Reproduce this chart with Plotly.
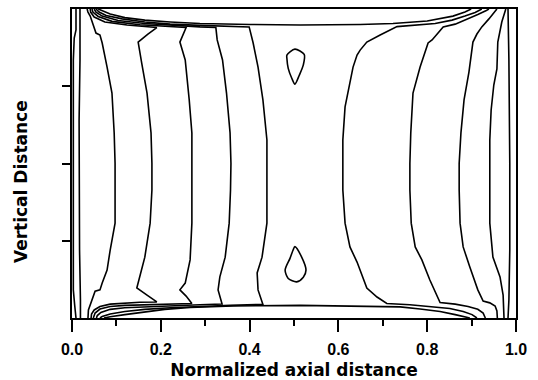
import plotly.graph_objects as go

# ---- Isolines: x = normalized axial distance, y = normalized height ----
# Band line nearest the top / bottom boundary layer
L1_TOP_X = [0.059, 0.068, 0.086, 0.119, 0.164, 0.221, 0.288, 0.401, 0.514, 0.649, 0.723, 0.800, 0.858, 0.885, 0.899]
L1_TOP_Y = [1.000, 0.994, 0.984, 0.972, 0.964, 0.958, 0.953, 0.950, 0.948, 0.950, 0.953, 0.961, 0.977, 0.990, 1.000]
L1_BOT_X = [0.072, 0.086, 0.119, 0.164, 0.209, 0.266, 0.363, 0.514, 0.664, 0.739, 0.784, 0.829, 0.863, 0.883, 0.896]
L1_BOT_Y = [0.000, 0.004, 0.011, 0.019, 0.028, 0.034, 0.039, 0.041, 0.039, 0.036, 0.029, 0.021, 0.011, 0.005, 0.000]

# Left-hand isolines (top wall -> interior -> bottom wall)
L2_X = [0.054, 0.061, 0.077, 0.113, 0.164, 0.221, 0.288, 0.356, 0.399, 0.408, 0.419, 0.430, 0.439, 0.439, 0.439, 0.439,
        0.428, 0.417, 0.419, 0.430, 0.356, 0.288, 0.221, 0.164, 0.119, 0.086, 0.068, 0.063]
L2_Y = [1.000, 0.990, 0.979, 0.968, 0.958, 0.951, 0.947, 0.944, 0.942, 0.890, 0.812, 0.706, 0.576, 0.500, 0.414, 0.307,
        0.197, 0.146, 0.091, 0.044, 0.041, 0.038, 0.033, 0.028, 0.021, 0.013, 0.005, 0.000]
L3_X = [0.050, 0.054, 0.068, 0.104, 0.164, 0.221, 0.288, 0.324, 0.327, 0.339, 0.348, 0.356, 0.358, 0.357, 0.354, 0.345,
        0.333, 0.329, 0.338, 0.288, 0.221, 0.164, 0.119, 0.086, 0.065, 0.057, 0.055]
L3_Y = [1.000, 0.990, 0.977, 0.963, 0.953, 0.947, 0.942, 0.940, 0.900, 0.835, 0.728, 0.599, 0.500, 0.414, 0.307, 0.197,
        0.133, 0.091, 0.045, 0.043, 0.040, 0.037, 0.033, 0.028, 0.018, 0.008, 0.000]
L4_X = [0.045, 0.047, 0.059, 0.090, 0.153, 0.209, 0.257, 0.243, 0.255, 0.264, 0.270, 0.270, 0.270, 0.270, 0.266, 0.255,
        0.243, 0.257, 0.270, 0.221, 0.164, 0.119, 0.086, 0.063, 0.052, 0.048]
L4_Y = [1.000, 0.990, 0.976, 0.960, 0.949, 0.943, 0.940, 0.893, 0.835, 0.706, 0.599, 0.500, 0.414, 0.307, 0.188, 0.113,
        0.091, 0.071, 0.047, 0.045, 0.044, 0.041, 0.037, 0.029, 0.016, 0.000]
L5_X = [0.041, 0.042, 0.050, 0.074, 0.124, 0.164, 0.191, 0.171, 0.149, 0.157, 0.169, 0.178, 0.180, 0.180, 0.176, 0.164,
        0.153, 0.146, 0.169, 0.191, 0.153, 0.119, 0.086, 0.063, 0.050, 0.044, 0.043]
L5_Y = [1.000, 0.990, 0.974, 0.958, 0.948, 0.943, 0.940, 0.919, 0.893, 0.825, 0.728, 0.599, 0.500, 0.414, 0.307, 0.197,
        0.133, 0.097, 0.074, 0.052, 0.051, 0.049, 0.045, 0.037, 0.026, 0.013, 0.000]
L6_X = [0.034, 0.036, 0.041, 0.045, 0.050, 0.054, 0.063, 0.068, 0.079, 0.090, 0.095, 0.097, 0.097, 0.097, 0.086, 0.079,
        0.068, 0.063, 0.052, 0.047, 0.041, 0.037, 0.036]
L6_Y = [1.000, 0.990, 0.977, 0.961, 0.939, 0.922, 0.916, 0.890, 0.812, 0.728, 0.599, 0.500, 0.414, 0.307, 0.220, 0.155,
        0.113, 0.091, 0.087, 0.065, 0.045, 0.026, 0.000]
L7_X = [0.018, 0.018, 0.016, 0.016, 0.017, 0.019, 0.019]
L7_Y = [1.000, 0.835, 0.641, 0.500, 0.220, 0.058, 0.000]
L8_X = [0.009, 0.009, 0.005, 0.003, 0.003, 0.003, 0.006, 0.009]
L8_Y = [1.000, 0.932, 0.906, 0.835, 0.500, 0.091, 0.042, 0.000]

# Right-hand isolines (top wall -> interior -> bottom wall)
R2_X = [0.923, 0.908, 0.885, 0.856, 0.818, 0.773, 0.732, 0.694, 0.664, 0.649, 0.642, 0.633, 0.626, 0.615, 0.610, 0.610,
        0.610, 0.615, 0.626, 0.642, 0.653, 0.664, 0.687, 0.709, 0.761, 0.806, 0.851, 0.881, 0.901, 0.912]
R2_Y = [1.000, 0.989, 0.977, 0.964, 0.953, 0.947, 0.943, 0.916, 0.893, 0.867, 0.851, 0.812, 0.761, 0.683, 0.576, 0.500,
        0.414, 0.307, 0.230, 0.181, 0.139, 0.097, 0.068, 0.047, 0.043, 0.038, 0.031, 0.021, 0.011, 0.000]
R3_X = [0.939, 0.932, 0.914, 0.892, 0.863, 0.836, 0.811, 0.802, 0.784, 0.768, 0.763, 0.761, 0.761, 0.764, 0.773, 0.788,
        0.806, 0.829, 0.863, 0.892, 0.914, 0.926, 0.931]
R3_Y = [1.000, 0.994, 0.982, 0.968, 0.951, 0.942, 0.900, 0.890, 0.812, 0.728, 0.599, 0.500, 0.414, 0.307, 0.230, 0.188,
        0.123, 0.050, 0.045, 0.037, 0.028, 0.016, 0.000]
R4_X = [0.957, 0.950, 0.939, 0.923, 0.912, 0.903, 0.894, 0.883, 0.876, 0.872, 0.872, 0.874, 0.881, 0.896, 0.914, 0.926,
        0.941, 0.953, 0.957, 0.958]
R4_Y = [1.000, 0.987, 0.968, 0.942, 0.919, 0.893, 0.796, 0.706, 0.599, 0.500, 0.414, 0.307, 0.230, 0.165, 0.091, 0.055,
        0.049, 0.039, 0.023, 0.000]
R5_X = [0.977, 0.975, 0.968, 0.959, 0.957, 0.950, 0.944, 0.941, 0.941, 0.941, 0.941, 0.948, 0.964, 0.971, 0.973]
R5_Y = [1.000, 0.990, 0.958, 0.893, 0.806, 0.754, 0.673, 0.576, 0.500, 0.414, 0.307, 0.197, 0.133, 0.074, 0.000]
R6_X = [0.982, 0.984, 0.986, 0.986, 0.984, 0.982]
R6_Y = [1.000, 0.835, 0.500, 0.220, 0.058, 0.000]

# Closed isolines around the two local minima on the mid-plane
LOOP_TOP_X = [0.484, 0.502, 0.523, 0.521, 0.512, 0.502, 0.495, 0.487, 0.484, 0.484]
LOOP_TOP_Y = [0.851, 0.870, 0.853, 0.819, 0.786, 0.757, 0.776, 0.808, 0.840, 0.851]
LOOP_BOT_X = [0.502, 0.517, 0.527, 0.521, 0.506, 0.487, 0.480, 0.491, 0.498, 0.502]
LOOP_BOT_Y = [0.231, 0.198, 0.155, 0.132, 0.117, 0.128, 0.155, 0.193, 0.220, 0.231]

X_TICKS = [0.0, 0.2, 0.4, 0.6, 0.8, 1.0]
X_TICK_LABELS = ["0.0", "0.2", "0.4", "0.6", "0.8", "1.0"]
Y_TICKS = [0.25, 0.5, 0.75]

OPEN_LINES = [
    (L1_TOP_X, L1_TOP_Y), (L1_BOT_X, L1_BOT_Y),
    (L2_X, L2_Y), (L3_X, L3_Y), (L4_X, L4_Y), (L5_X, L5_Y), (L6_X, L6_Y), (L7_X, L7_Y), (L8_X, L8_Y),
    (R2_X, R2_Y), (R3_X, R3_Y), (R4_X, R4_Y), (R5_X, R5_Y), (R6_X, R6_Y),
]
LOOPS = [(LOOP_TOP_X, LOOP_TOP_Y), (LOOP_BOT_X, LOOP_BOT_Y)]

fig = go.Figure()
for xs, ys in OPEN_LINES:
    fig.add_trace(go.Scatter(x=xs, y=ys, mode="lines", line=dict(color="black", width=1.6),
                             showlegend=False, hoverinfo="skip"))
for xs, ys in LOOPS:
    fig.add_trace(go.Scatter(x=xs, y=ys, mode="lines",
                             line=dict(color="black", width=1.6, shape="spline", smoothing=0.8),
                             showlegend=False, hoverinfo="skip"))

fig.update_layout(
    width=538, height=380,
    margin=dict(l=72, r=22, t=9, b=62, autoexpand=False),
    paper_bgcolor="white", plot_bgcolor="white",
    font=dict(family="Arial", color="black"),
    xaxis=dict(
        range=[0, 1], tickvals=X_TICKS, ticktext=X_TICK_LABELS, automargin=False,
        ticks="outside", ticklen=12, tickwidth=1.5, tickcolor="black",
        minor=dict(dtick=0.1, tick0=0, ticks="outside", ticklen=6, tickwidth=1.5, tickcolor="black"),
        showline=True, linecolor="black", linewidth=1.6, mirror=True,
        showgrid=False, zeroline=False,
        tickfont=dict(family="Arial", size=16, weight=700, color="black"),
        ticklabelstandoff=4,
        title=dict(text="Normalized axial distance", standoff=9,
                   font=dict(family="DejaVu Sans", size=17, weight=700, color="black")),
    ),
    yaxis=dict(
        range=[0, 1], tickvals=Y_TICKS, showticklabels=False, automargin=False,
        ticks="outside", ticklen=8, tickwidth=1.5, tickcolor="black",
        showline=True, linecolor="black", linewidth=1.6, mirror=True,
        showgrid=False, zeroline=False,
    ),
    annotations=[dict(
        text="Vertical Distance", textangle=-90, showarrow=False,
        xref="paper", yref="paper", x=-0.115, y=0.443, xanchor="center", yanchor="middle",
        font=dict(family="DejaVu Sans", size=17, weight=700, color="black"),
    )],
)

fig.write_html("out.html", config={"displayModeBar": False},
               post_script="document.body.style.margin='0';")
